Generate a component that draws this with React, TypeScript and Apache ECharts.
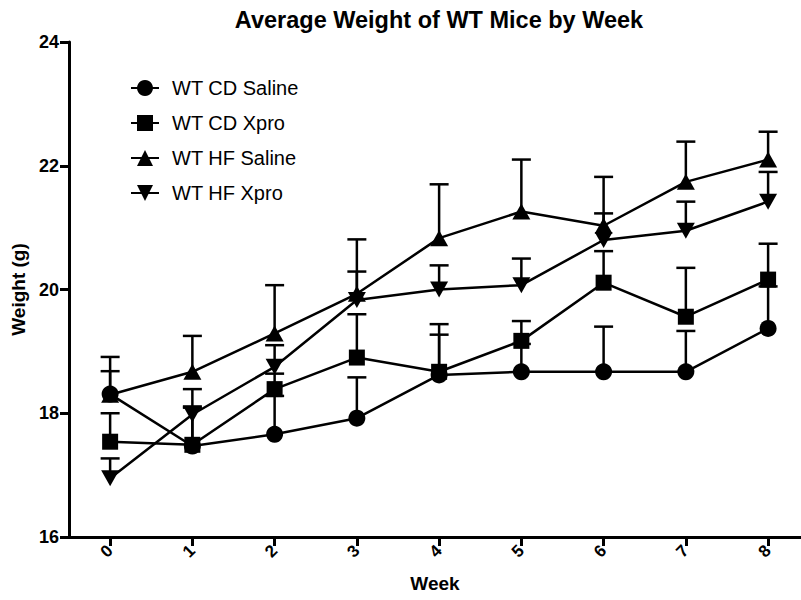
import React, { useEffect, useRef } from "react";
import * as echarts from "echarts";

const weeks = [0, 1, 2, 3, 4, 5, 6, 7, 8];
const seriesNames = ["WT CD Saline", "WT CD Xpro", "WT HF Saline", "WT HF Xpro"];
const cdSalineMean = [18.31, 17.47, 17.66, 17.92, 18.62, 18.67, 18.67, 18.67, 19.37];
const cdSalineSem = [0.37, 0.64, 0.62, 0.66, 0.65, 0.45, 0.73, 0.66, 0.68];
const cdXproMean = [17.54, 17.49, 18.39, 18.9, 18.67, 19.17, 20.11, 19.56, 20.16];
const cdXproSem = [0.46, 0.6, 0.25, 0.7, 0.77, 0.32, 0.51, 0.79, 0.58];
const hfSalineMean = [18.3, 18.67, 19.29, 19.93, 20.83, 21.26, 21.03, 21.74, 22.1];
const hfSalineSem = [0.61, 0.58, 0.78, 0.88, 0.87, 0.84, 0.79, 0.65, 0.45];
const hfXproMean = [16.95, 17.98, 18.75, 19.83, 20.0, 20.07, 20.8, 20.95, 21.42];
const hfXproSem = [0.32, 0.41, 0.35, 0.46, 0.39, 0.43, 0.43, 0.47, 0.48];
const yTicks = [16, 18, 20, 22, 24];

const FONT = "Liberation Sans";
const DOWN_TRI = "path://M0,0L2,0L1,1.732Z";

export default function App() {
  const ref = useRef<HTMLDivElement>(null);
  useEffect(() => {
    if (!ref.current) return;
    const chart = echarts.init(ref.current, null, { renderer: "svg" });
    const groups = [
      { name: seriesNames[0], mean: cdSalineMean, sem: cdSalineSem, symbol: "circle", size: 17 },
      { name: seriesNames[1], mean: cdXproMean, sem: cdXproSem, symbol: "rect", size: 16 },
      { name: seriesNames[2], mean: hfSalineMean, sem: hfSalineSem, symbol: "triangle", size: [18, 16] },
      { name: seriesNames[3], mean: hfXproMean, sem: hfXproSem, symbol: DOWN_TRI, size: [18, 16] },
    ];
    const series: any[] = [];
    groups.forEach((g) => {
      series.push({
        type: "custom",
        name: g.name + " SEM",
        silent: true,
        z: 1,
        encode: { x: 0, y: [1, 2] },
        data: weeks.map((w, i) => [w, g.mean[i], g.mean[i] + g.sem[i]]),
        renderItem: (params: any, api: any) => {
          const x = api.value(0);
          const p0 = api.coord([x, api.value(1)]);
          const p1 = api.coord([x, api.value(2)]);
          const st = { stroke: "#000", lineWidth: 2.5 };
          return {
            type: "group",
            children: [
              { type: "line", shape: { x1: p0[0], y1: p0[1], x2: p1[0], y2: p1[1] }, style: st },
              { type: "line", shape: { x1: p1[0] - 9.5, y1: p1[1], x2: p1[0] + 9.5, y2: p1[1] }, style: st },
            ],
          };
        },
      });
      series.push({
        type: "line",
        name: g.name,
        z: 2,
        data: weeks.map((w, i) => [w, g.mean[i]]),
        symbol: g.symbol,
        symbolSize: g.size,
        showAllSymbol: true,
        lineStyle: { color: "#000", width: 2.5 },
        itemStyle: { color: "#000", borderWidth: 0 },
      });
    });
    chart.setOption({
      animation: false,
      backgroundColor: "#fff",
      title: {
        text: "Average Weight of WT Mice by Week",
        left: 434,
        textAlign: "center",
        top: 3,
        textStyle: { fontFamily: FONT, fontWeight: "bold", fontSize: 23.5, color: "#000" },
      },
      legend: {
        data: seriesNames,
        orient: "vertical",
        left: 125,
        top: 73,
        itemWidth: 28,
        itemHeight: 20,
        itemGap: 15,
        textStyle: { fontFamily: FONT, fontSize: 20, color: "#000", padding: [0, 0, 0, 8] },
        inactiveColor: "#000",
      },
      grid: { left: 69, right: 0, top: 42, bottom: 63, containLabel: false, outerBoundsMode: "none" },
      xAxis: {
        type: "value",
        min: -0.5,
        max: 8.4,
        name: "Week",
        nameLocation: "middle",
        nameGap: 37,
        nameTextStyle: { fontFamily: FONT, fontWeight: "bold", fontSize: 19, color: "#000" },
        axisLine: { onZero: false, lineStyle: { color: "#000", width: 3 } },
        axisTick: { customValues: weeks, length: 9, lineStyle: { color: "#000", width: 3 } },
        axisLabel: {
          customValues: weeks,
          rotate: 45,
          margin: 11,
          fontFamily: FONT,
          fontWeight: "bold",
          fontSize: 17,
          color: "#000",
        },
        splitLine: { show: false },
      },
      yAxis: {
        type: "value",
        min: 16,
        max: 24,
        interval: 2,
        name: "Weight (g)",
        nameLocation: "middle",
        nameGap: 38,
        nameTextStyle: { fontFamily: FONT, fontWeight: "bold", fontSize: 19, color: "#000" },
        axisLine: { show: true, onZero: false, lineStyle: { color: "#000", width: 3 } },
        axisTick: { show: true, length: 9, lineStyle: { color: "#000", width: 3 } },
        axisLabel: {
          margin: 10,
          fontFamily: FONT,
          fontWeight: "bold",
          fontSize: 18,
          color: "#000",
          formatter: (v: number) => (yTicks.includes(v) ? String(v) : ""),
        },
        splitLine: { show: false },
      },
      series,
    });
    return () => chart.dispose();
  }, []);
  return (
    <div
      ref={ref}
      style={{ position: "absolute", left: 0, top: 0, width: 801, height: 600 }}
    />
  );
}
